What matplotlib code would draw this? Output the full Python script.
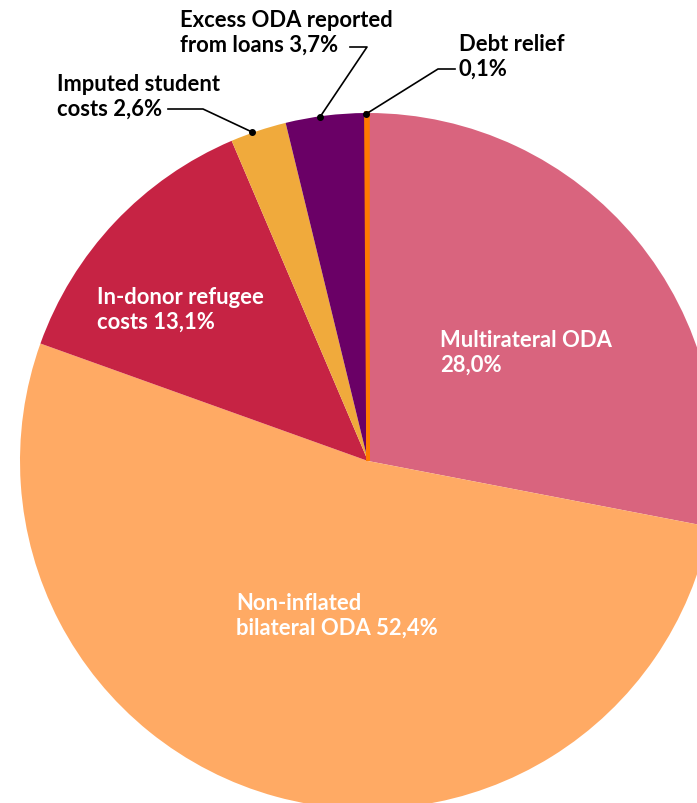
import matplotlib
matplotlib.use("Agg")
import matplotlib.pyplot as plt

categories = ["Multirateral ODA", "Non-inflated bilateral ODA", "In-donor refugee costs",
              "Imputed student costs", "Excess ODA reported from loans", "Debt relief"]
values = [28.0, 52.4, 13.1, 2.6, 3.7, 0.1]
colors = ["#D9647E", "#FFAA64", "#C62344", "#F0AA3C", "#6A0066", "#FF7A00"]

plt.rcParams['font.family'] = ['Lato', 'DejaVu Sans']

W, H = 697, 804
fig = plt.figure(figsize=(W/100, H/100), dpi=100)
ax = fig.add_axes([0, 0, 1, 1])

cx, cy, R = 368, H - 462, 348
wedges, _ = ax.pie(values, colors=colors, startangle=90, counterclock=False,
                   center=(cx, cy), radius=R, frame=True,
                   wedgeprops=dict(linewidth=0))
# make the tiny debt-relief sliver visible as in the reference
wedges[-1].set_edgecolor(colors[-1])
wedges[-1].set_linewidth(2.5)
wedges[-1].set_zorder(3)
ax.set_xlim(0, W)
ax.set_ylim(0, H)
ax.set_aspect('equal')
ax.axis('off')

def Y(y):
    return H - y

fs = 15.8
kw = dict(fontsize=fs, fontweight="bold", ha="left", va="center", linespacing=1.2)
# inside labels (white)
ax.text(440, Y(353), "Multirateral ODA\n28,0%", color="white", **kw)
ax.text(236, Y(616), "Non-inflated\nbilateral ODA 52,4%", color="white", **kw)
ax.text(97, Y(310), "In-donor refugee\ncosts 13,1%", color="white", **kw)

# outside labels (black) with leaders
ax.text(180, Y(33), "Excess ODA reported\nfrom loans 3,7%", color="black", **kw)
ax.plot([350, 367, 320], [Y(48), Y(48), Y(118)], color="black", lw=1.2, zorder=4)
ax.plot([320], [Y(118)], 'o', color="black", ms=4, zorder=5)

ax.text(57, Y(97), "Imputed student\ncosts 2,6%", color="black", **kw)
ax.plot([168, 203, 252], [Y(110), Y(110), Y(133)], color="black", lw=1.2, zorder=4)
ax.plot([252], [Y(133)], 'o', color="black", ms=4, zorder=5)

ax.text(459, Y(57), "Debt relief\n0,1%", color="black", **kw)
ax.plot([455, 438, 366], [Y(70), Y(70), Y(115)], color="black", lw=1.2, zorder=4)
ax.plot([366], [Y(115)], 'o', color="black", ms=4, zorder=5)

fig.savefig("out.png", dpi=100)
